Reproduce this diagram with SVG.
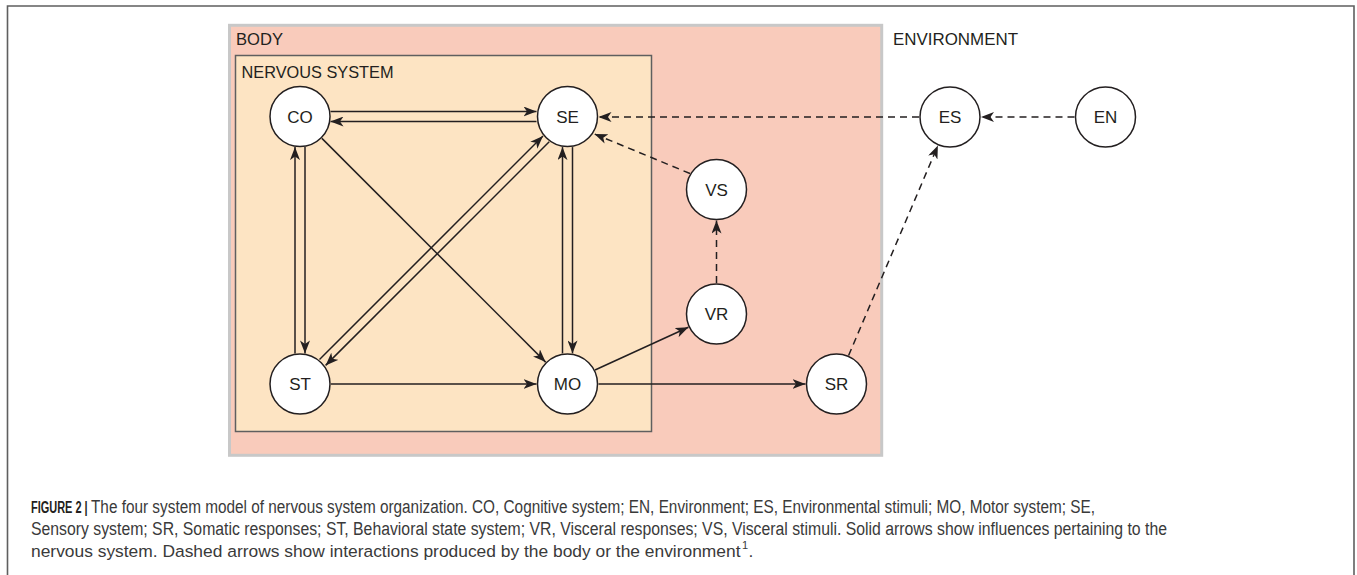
<svg xmlns="http://www.w3.org/2000/svg" width="1357" height="575" viewBox="0 0 1357 575">
<style>
.frame{fill:none;stroke:#5f5f5f;stroke-width:1.6}
.node circle{fill:#fff;stroke:#231f20;stroke-width:1.5}
.node text{font-family:"Liberation Sans",Arial,sans-serif;font-size:17px;fill:#231f20;text-anchor:middle}
.lbl{font-family:"Liberation Sans",Arial,sans-serif;font-size:17px;fill:#231f20}
.solid{fill:none;stroke:#231f20;stroke-width:1.5;marker-end:url(#ah)}
.dash{fill:none;stroke:#231f20;stroke-width:1.5;stroke-dasharray:7 5;marker-end:url(#ah)}
.cap{font-family:"Liberation Sans",Arial,sans-serif;font-size:18px;fill:#3a3a3a}
.capb{font-family:"Liberation Sans",Arial,sans-serif;font-size:17px;font-weight:bold;fill:#231f20}
</style>
<defs>
<marker id="ah" markerUnits="userSpaceOnUse" viewBox="0 0 13 10" refX="13" refY="5" markerWidth="13" markerHeight="10" orient="auto">
<path d="M0,0 L13,5 L0,10 L3.5,5 Z" fill="#231f20" stroke="none"/>
</marker>
</defs>
<rect width="1357" height="575" fill="#fff"/>
<path class="frame" d="M7.5,575 V6 H1354 V575"/>
<g id="body">
<rect x="229.5" y="25.3" width="652.2" height="430" fill="#f9cbbb" stroke="#c8c8c8" stroke-width="3"/>
<text class="lbl" x="236" y="45" textLength="47" lengthAdjust="spacingAndGlyphs">BODY</text>
</g>
<g id="nervous-system">
<rect x="235.5" y="55.5" width="416" height="376" fill="#fde4c3" stroke="#5f5f5f" stroke-width="1.5"/>
<text class="lbl" x="241.5" y="78" textLength="152" lengthAdjust="spacingAndGlyphs">NERVOUS SYSTEM</text>
</g>
<g id="environment">
<text class="lbl" x="893" y="45" textLength="125" lengthAdjust="spacingAndGlyphs">ENVIRONMENT</text>
</g>
<g id="connectors">
<line class="solid" x1="330.5" y1="111.5" x2="536.5" y2="111.5"/>
<line class="solid" x1="536.5" y1="121.5" x2="330.5" y2="121.5"/>
<line class="solid" x1="295" y1="353.4" x2="295" y2="147.1"/>
<line class="solid" x1="305" y1="147.1" x2="305" y2="353.4"/>
<line class="solid" x1="562.5" y1="353.4" x2="562.5" y2="147.1"/>
<line class="solid" x1="572.5" y1="147.1" x2="572.5" y2="353.4"/>
<line class="solid" x1="319.5" y1="359.5" x2="543" y2="136"/>
<line class="solid" x1="549.2" y1="141.8" x2="325.6" y2="365.4"/>
<line class="solid" x1="321.9" y1="138.4" x2="545.6" y2="362.1"/>
<line class="solid" x1="331" y1="384" x2="536.5" y2="384"/>
<line class="solid" x1="595" y1="370" x2="688.4" y2="327.2"/>
<line class="solid" x1="598.5" y1="384" x2="805.5" y2="384"/>
<line class="dash" x1="716.5" y1="283" x2="716.5" y2="220.5"/>
<line class="dash" x1="690" y1="173.5" x2="594.5" y2="134"/>
<line class="dash" x1="919" y1="117" x2="598.5" y2="117"/>
<line class="dash" x1="1074.5" y1="117" x2="981" y2="117"/>
<line class="dash" x1="848.6" y1="355.5" x2="937.9" y2="145.6"/>
</g>
<g id="CO" class="node"><circle cx="300" cy="116.5" r="30"/><text x="300" y="122.6">CO</text></g>
<g id="SE" class="node"><circle cx="567.5" cy="116.5" r="30"/><text x="567.5" y="122.6">SE</text></g>
<g id="ST" class="node"><circle cx="300" cy="384" r="30"/><text x="300" y="390.1">ST</text></g>
<g id="MO" class="node"><circle cx="567.5" cy="384" r="30"/><text x="567.5" y="390.1">MO</text></g>
<g id="VS" class="node"><circle cx="716.5" cy="189.5" r="30"/><text x="716.5" y="195.6">VS</text></g>
<g id="VR" class="node"><circle cx="716.5" cy="314" r="30"/><text x="716.5" y="320.1">VR</text></g>
<g id="SR" class="node"><circle cx="836.5" cy="384" r="30"/><text x="836.5" y="390.1">SR</text></g>
<g id="ES" class="node"><circle cx="950" cy="117" r="30"/><text x="950" y="123.1">ES</text></g>
<g id="EN" class="node"><circle cx="1105.5" cy="117" r="30"/><text x="1105.5" y="123.1">EN</text></g>
<g id="caption">
<text class="capb" transform="translate(31 512.5) scale(0.645 1)" x="0" y="0">FIGURE 2 |</text>
<text class="cap" x="91" y="512.5" textLength="1004" lengthAdjust="spacingAndGlyphs">The four system model of nervous system organization. CO, Cognitive system; EN, Environment; ES, Environmental stimuli; MO, Motor system; SE,</text>
<text class="cap" x="31" y="534.5" textLength="1136" lengthAdjust="spacingAndGlyphs">Sensory system; SR, Somatic responses; ST, Behavioral state system; VR, Visceral responses; VS, Visceral stimuli. Solid arrows show influences pertaining to the</text>
<text class="cap" x="31" y="556.5" style="font-size:17.4px">nervous system. Dashed arrows show interactions produced by the body or the environment</text>
<text class="cap" x="742" y="549" style="font-size:11px">1</text>
<text class="cap" x="748.5" y="556.5" style="font-size:17.4px">.</text>
</g>
</svg>
